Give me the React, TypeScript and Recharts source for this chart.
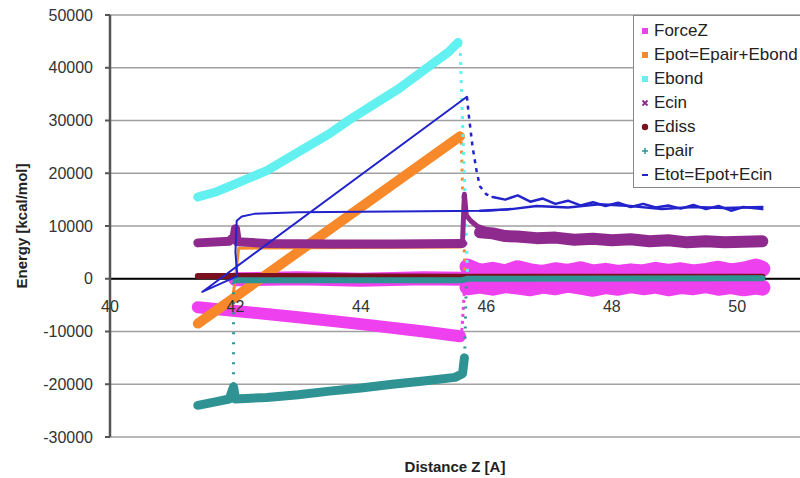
import React from 'react';
import {
  ComposedChart,
  Line,
  XAxis,
  YAxis,
  CartesianGrid,
  ReferenceLine,
} from 'recharts';

type Pt = [number, number];

const FONT = '"Liberation Sans", Arial, sans-serif';
const W = 800;
const H = 478;
const AXIS_H = 41;
const AXIS_W = 110;
const M = { top: 15, right: 0, bottom: 0, left: 0 };
const Y_MIN = -30000;
const Y_MAX = 50000;

const X_TICKS = [40, 42, 44, 46, 48, 50];
const Y_TICKS = [-30000, -20000, -10000, 0, 10000, 20000, 30000, 40000, 50000];

// ForceZ
const forceDown: Pt[] = [[41.4, -5400], [42, -6100], [43, -7300], [44, -8600], [45, -10000], [45.58, -10900]];
const forceJump: Pt[] = [[45.6, -11200], [45.62, -8000], [45.65, -2000], [45.67, 3000]];
const forceBack: Pt[] = [[42, -100], [43, 100], [44, -200], [45, 100], [45.6, 0]];
const forceHi: Pt[] = [
  [45.7, 2300], [45.9, 1300], [46.1, 1700], [46.3, 1200], [46.5, 2000], [46.7, 1400], [46.9, 1100],
  [47.1, 1600], [47.3, 1300], [47.5, 1800], [47.7, 1200], [47.9, 1500], [48.1, 1100], [48.3, 1400],
  [48.5, 1200], [48.7, 1700], [48.9, 1300], [49.1, 1600], [49.3, 1200], [49.5, 1500], [49.7, 1900],
  [49.9, 1400], [50.1, 1700], [50.3, 2300], [50.4, 1900],
];
const forceLo: Pt[] = [
  [45.7, -1600], [45.9, -1300], [46.1, -1700], [46.3, -1200], [46.5, -1500], [46.7, -1800], [46.9, -1300],
  [47.1, -1600], [47.3, -1100], [47.5, -1500], [47.7, -1900], [47.9, -1400], [48.1, -1700], [48.3, -1200],
  [48.5, -1600], [48.7, -1300], [48.9, -1800], [49.1, -1400], [49.3, -1600], [49.5, -1200], [49.7, -1700],
  [49.9, -1400], [50.1, -1800], [50.3, -1500], [50.4, -1700],
];

// Epot = Epair + Ebond
const epotUp: Pt[] = [[41.4, -8500], [45.58, 27000]];
const epotBack: Pt[] = [[45.6, 6000], [42.05, 5800], [42, 0], [41.96, -3200]];
const epotJump: Pt[] = [[45.6, 26000], [45.66, 500]];

// Ebond
const ebondUp: Pt[] = [
  [41.4, 15500], [41.7, 16500], [42, 18000], [42.5, 20500], [43, 24000], [43.5, 27500], [43.8, 30000],
  [44.2, 33000], [44.6, 36000], [45, 39500], [45.4, 43000], [45.55, 44800],
];
const ebondJump: Pt[] = [[45.58, 44500], [45.7, 800]];

// Ecin
const ecinLeft: Pt[] = [
  [41.4, 6800], [41.9, 7100], [41.98, 8000], [42, 9500], [42.03, 7000], [42.5, 6700], [43.5, 6600],
  [44.5, 6600], [45.62, 6700],
];
const ecinSpike: Pt[] = [[45.62, 7000], [45.65, 16000], [45.68, 12000], [45.75, 11000], [45.85, 10000], [46, 9300]];
const ecinRight: Pt[] = [
  [45.9, 8800], [46.1, 8600], [46.3, 8100], [46.5, 8000], [46.8, 7700], [47.1, 7800], [47.4, 7400],
  [47.7, 7600], [48, 7300], [48.3, 7500], [48.6, 7100], [48.9, 7300], [49.2, 6900], [49.5, 7100],
  [49.8, 6900], [50.1, 7000], [50.4, 7100],
];

// Ediss
const ediss: Pt[] = [[41.4, 500], [42.5, 500], [45.6, 400], [50.4, 400]];

// Epair
const epairDown: Pt[] = [
  [41.4, -24000], [41.7, -23300], [41.9, -22800], [41.97, -20500], [42, -22800], [42.5, -22500],
  [43, -22000], [43.5, -21300], [44, -20700], [44.5, -20000], [45, -19400], [45.5, -18700],
  [45.62, -18000], [45.65, -15000],
];
const epairZero: Pt[] = [[42, -300], [45.6, -300], [45.7, 0], [50.4, 100]];
const epairJumpA: Pt[] = [[41.97, -20000], [41.97, -500]];
const epairJumpB: Pt[] = [[45.65, -17000], [45.68, -500]];

// Etot = Epot + Ecin
const etotLoop: Pt[] = [
  [46.4, 13200], [46, 12900], [45, 12800], [44, 12700], [43, 12600], [42.3, 12300], [42.1, 11800],
  [42.02, 11000], [42, 5000], [42.03, 500], [41.47, -2500], [45.69, 34500],
];
const etotJump: Pt[] = [[45.69, 34500], [45.72, 31000], [45.78, 25000], [45.85, 20000], [45.9, 17500], [46, 16000], [46.1, 15500]];
const etotNoise: Pt[] = [
  [46.1, 15500], [46.3, 15000], [46.5, 15800], [46.7, 14600], [46.9, 15200], [47.1, 14200], [47.3, 14800],
  [47.5, 13900], [47.7, 14500], [47.9, 13800], [48.1, 14400], [48.3, 13600], [48.5, 14200], [48.7, 13500],
  [48.9, 13900], [49.1, 13300], [49.3, 14000], [49.5, 13200], [49.7, 13800], [49.9, 12900], [50.1, 13600],
  [50.4, 13200],
];
const etotLow: Pt[] = [
  [45.9, 12900], [46.4, 13200], [46.8, 13800], [47.3, 13500], [47.8, 14100], [48.3, 13800], [48.8, 13200],
  [49.3, 13600], [49.8, 13400], [50.4, 13600],
];

const C = {
  force: '#ee40ee',
  epot: '#f7892a',
  ebond: '#62f0f0',
  ecin: '#8e2a8e',
  ediss: '#7b1020',
  epair: '#2f9393',
  etot: '#2323cc',
};

type Seg = { data: Pt[]; color: string; width: number; dash?: string };

// drawn in this order, bottom first
const SEGMENTS: Seg[] = [
  { data: forceDown, color: C.force, width: 12 },
  { data: forceBack, color: C.force, width: 14 },
  { data: forceJump, color: C.force, width: 3, dash: '3 4' },
  { data: forceHi, color: C.force, width: 16 },
  { data: forceLo, color: C.force, width: 16 },
  { data: epotUp, color: C.epot, width: 10 },
  { data: epotBack, color: C.epot, width: 3 },
  { data: epotJump, color: C.epot, width: 3, dash: '3 6' },
  { data: ebondUp, color: C.ebond, width: 9 },
  { data: ebondJump, color: C.ebond, width: 3, dash: '3 6' },
  { data: ecinLeft, color: C.ecin, width: 9 },
  { data: ecinSpike, color: C.ecin, width: 5 },
  { data: ecinRight, color: C.ecin, width: 12 },
  { data: ediss, color: C.ediss, width: 6 },
  { data: epairDown, color: C.epair, width: 9 },
  { data: epairZero, color: C.epair, width: 6 },
  { data: epairJumpA, color: C.epair, width: 3, dash: '2 8' },
  { data: epairJumpB, color: C.epair, width: 3, dash: '2 8' },
  { data: etotLoop, color: C.etot, width: 2 },
  { data: etotJump, color: C.etot, width: 2.5, dash: '4 5' },
  { data: etotNoise, color: C.etot, width: 2.5 },
  { data: etotLow, color: C.etot, width: 2.5 },
];

const LEGEND = [
  { name: 'ForceZ', color: C.force, mark: 'square' },
  { name: 'Epot=Epair+Ebond', color: C.epot, mark: 'square' },
  { name: 'Ebond', color: C.ebond, mark: 'square' },
  { name: 'Ecin', color: C.ecin, mark: 'x' },
  { name: 'Ediss', color: C.ediss, mark: 'circle' },
  { name: 'Epair', color: C.epair, mark: 'plus' },
  { name: 'Etot=Epot+Ecin', color: C.etot, mark: 'dash' },
];

const pts = (a: Pt[]) => a.map(([x, y]) => ({ x, y }));

const PLOT_H = H - M.top - M.bottom - AXIS_H;
const ZERO_SHIFT = -(PLOT_H * (0 - Y_MIN)) / (Y_MAX - Y_MIN);

function XTick({ x, y, payload }: any) {
  return (
    <text x={x} y={y + ZERO_SHIFT + 33} textAnchor="middle" fontSize={16} fill="#333" fontFamily={FONT}>
      {payload.value}
    </text>
  );
}

function Marker({ mark, color }: { mark: string; color: string }) {
  return (
    <svg width={10} height={10} style={{ display: 'block' }}>
      {mark === 'square' && <rect x={2} y={2} width={6} height={6} fill={color} />}
      {mark === 'circle' && <circle cx={5} cy={5} r={3.2} fill={color} />}
      {mark === 'x' && (
        <path d="M2.5 2.5 L7.5 7.5 M7.5 2.5 L2.5 7.5" stroke={color} strokeWidth={1.8} />
      )}
      {mark === 'plus' && <path d="M5 2 L5 8 M2 5 L8 5" stroke={color} strokeWidth={1.5} />}
      {mark === 'dash' && <path d="M2 5 L8 5" stroke={color} strokeWidth={2} />}
    </svg>
  );
}

function LegendBox() {
  return (
    <div
      style={{
        position: 'absolute',
        left: 633,
        top: 15,
        width: 190,
        height: 168,
        paddingTop: 3,
        background: '#fff',
        border: '1.5px solid #888',
        fontFamily: FONT,
        fontSize: 17,
        color: '#222',
      }}
    >
      {LEGEND.map((l) => (
        <div key={l.name} style={{ display: 'flex', alignItems: 'center', height: 24 }}>
          <div style={{ width: 18, display: 'flex', justifyContent: 'center', paddingLeft: 2 }}>
            <Marker mark={l.mark} color={l.color} />
          </div>
          <span style={{ whiteSpace: 'nowrap' }}>{l.name}</span>
        </div>
      ))}
    </div>
  );
}

export default function App() {
  return (
    <div
      style={{
        position: 'fixed',
        left: 0,
        top: 0,
        width: W,
        height: H,
        overflow: 'hidden',
        background: '#fff',
      }}
    >
      <ComposedChart width={W} height={H} margin={M}>
        <CartesianGrid vertical={false} stroke="#a0a0a0" strokeWidth={1.5} />
        <XAxis
          type="number"
          dataKey="x"
          domain={[40, 51]}
          ticks={X_TICKS}
          interval={0}
          allowDataOverflow
          axisLine={false}
          tickLine={false}
          tickSize={0}
          tickMargin={0}
          height={AXIS_H}
          tick={<XTick />}
          label={{
            value: 'Distance Z [A]',
            position: 'insideBottom',
            offset: 6,
            style: { fontFamily: FONT, fontSize: 15, fontWeight: 700, fill: '#222' },
          }}
        />
        <YAxis
          type="number"
          domain={[Y_MIN, Y_MAX]}
          ticks={Y_TICKS}
          interval={0}
          allowDataOverflow
          width={AXIS_W}
          axisLine={{ stroke: '#555', strokeWidth: 2.5 }}
          tickLine={{ stroke: '#555', strokeWidth: 2 }}
          tickSize={5}
          tickMargin={12}
          tick={{ fontSize: 16, fill: '#333', fontFamily: FONT }}
          label={{
            value: 'Energy [kcal/mol]',
            angle: -90,
            position: 'insideLeft',
            offset: 22,
            style: { textAnchor: 'middle', fontFamily: FONT, fontSize: 15, fontWeight: 700, fill: '#222' },
          }}
        />
        <ReferenceLine y={0} stroke="#000" strokeWidth={2} />
        {SEGMENTS.map((s, i) => (
          <Line
            key={i}
            data={pts(s.data)}
            dataKey="y"
            type="linear"
            stroke={s.color}
            strokeWidth={s.width}
            strokeDasharray={s.dash}
            strokeLinecap={s.dash ? 'butt' : 'round'}
            strokeLinejoin="round"
            dot={false}
            activeDot={false}
            legendType="none"
            isAnimationActive={false}
          />
        ))}
      </ComposedChart>
      <LegendBox />
    </div>
  );
}
